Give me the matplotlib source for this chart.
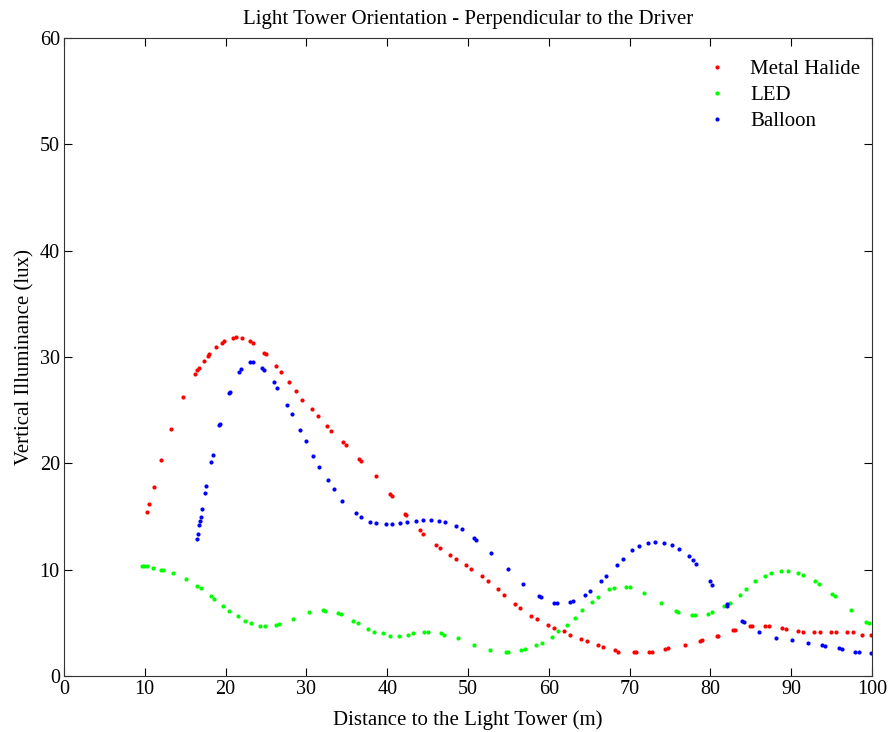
import matplotlib.pyplot as plt

# Metal Halide
mh_x = [10.3, 10.5, 11.1, 12.0, 13.2, 14.7, 16.25, 16.5, 16.75, 17.3, 17.8, 17.95, 18.8, 19.5, 19.8,
        20.9, 21.3, 22.0, 23.0, 23.4, 24.8, 25.0, 26.2, 26.8, 27.8, 28.7, 29.5, 30.65, 31.4, 32.6,
        33.1, 34.5, 34.9, 36.5, 36.7, 38.6, 40.4, 40.55, 42.2, 42.35, 44.1, 44.4, 46.0, 46.5, 47.8,
        48.5, 49.7, 50.4, 51.7, 52.5, 53.7, 54.5, 55.8, 56.4, 57.8, 58.5, 59.9, 60.6, 61.9, 62.6,
        64.0, 64.7, 66.05, 66.7, 68.2, 68.6, 70.5, 70.75, 72.4, 72.8, 74.4, 74.8, 76.8, 78.7, 79.0,
        80.8, 80.9, 82.8, 83.0, 84.9, 85.1, 86.8, 87.3, 88.8, 89.3, 90.9, 91.5, 92.8, 93.6, 94.9,
        95.6, 96.9, 97.7, 98.8, 99.9]
mh_y = [15.45, 16.2, 17.8, 20.3, 23.2, 26.2, 28.4, 28.8, 29.0, 29.6, 30.1, 30.3, 30.9, 31.3, 31.5,
        31.8, 31.9, 31.8, 31.5, 31.3, 30.4, 30.25, 29.2, 28.6, 27.65, 26.8, 26.0, 25.1, 24.45, 23.5,
        23.0, 22.0, 21.7, 20.4, 20.25, 18.8, 17.1, 16.95, 15.2, 15.1, 13.7, 13.4, 12.35, 12.0, 11.35,
        11.0, 10.4, 10.1, 9.4, 8.95, 8.15, 7.65, 6.8, 6.4, 5.6, 5.35, 4.8, 4.55, 4.2, 3.9,
        3.5, 3.3, 2.9, 2.75, 2.4, 2.3, 2.25, 2.25, 2.25, 2.3, 2.5, 2.6, 2.9, 3.25, 3.35,
        3.8, 3.8, 4.3, 4.3, 4.7, 4.7, 4.7, 4.7, 4.55, 4.45, 4.2, 4.15, 4.1, 4.1, 4.1,
        4.1, 4.1, 4.1, 3.9, 3.85]

# LED
led_x = [9.6, 9.9, 10.3, 11.0, 12.0, 12.3, 13.45, 15.05, 16.5, 16.9, 18.15, 18.6, 19.7, 20.4, 21.5,
         22.4, 23.1, 24.3, 24.9, 26.2, 26.6, 28.3, 30.3, 32.1, 32.3, 33.9, 34.3, 35.8, 36.35, 37.6,
         38.4, 39.5, 40.4, 41.4, 42.6, 43.2, 44.6, 45.1, 46.7, 47.0, 48.8, 50.7, 52.7, 54.7, 55.0,
         56.5, 57.0, 58.4, 59.2, 60.4, 61.2, 62.2, 63.2, 64.1, 65.4, 66.05, 67.5, 68.1, 69.6, 70.0,
         71.8, 73.85, 75.7, 76.0, 77.7, 78.1, 79.7, 80.2, 81.7, 82.4, 83.6, 84.4, 85.5, 86.7, 87.5,
         88.7, 89.6, 90.9, 91.5, 93.0, 93.5, 95.1, 95.4, 97.4, 99.3, 99.6]
led_y = [10.3, 10.3, 10.3, 10.2, 10.0, 10.0, 9.7, 9.15, 8.5, 8.25, 7.5, 7.25, 6.6, 6.1, 5.6,
         5.2, 4.95, 4.7, 4.7, 4.8, 4.85, 5.4, 6.05, 6.2, 6.15, 5.95, 5.8, 5.2, 4.95, 4.4,
         4.15, 4.0, 3.8, 3.8, 3.9, 4.0, 4.1, 4.1, 4.0, 3.9, 3.55, 2.95, 2.45, 2.25, 2.25,
         2.45, 2.5, 2.9, 3.15, 3.7, 4.2, 4.8, 5.5, 6.2, 7.0, 7.4, 8.2, 8.3, 8.4, 8.4,
         7.85, 6.9, 6.1, 6.0, 5.7, 5.7, 5.85, 6.0, 6.6, 6.9, 7.65, 8.15, 8.9, 9.4, 9.7,
         9.9, 9.9, 9.65, 9.5, 8.9, 8.65, 7.7, 7.5, 6.2, 5.1, 4.95]

# Balloon
bal_x = [16.45, 16.55, 16.75, 16.8, 17.0, 17.1, 17.5, 17.6, 18.2, 18.5, 19.2, 19.35, 20.4, 20.55,
         21.6, 21.95, 23.0, 23.35, 24.5, 24.8, 26.0, 26.4, 27.6, 28.25, 29.25, 30.0, 30.85, 31.6,
         32.7, 33.45, 34.4, 36.1, 36.7, 37.9, 38.6, 39.8, 40.55, 41.6, 42.5, 43.6, 44.4, 45.4,
         46.45, 47.2, 48.5, 49.2, 50.7, 50.95, 52.9, 54.9, 56.8, 58.75, 59.0, 60.7, 61.05, 62.6,
         63.0, 64.5, 65.1, 66.5, 67.1, 68.4, 69.15, 70.3, 71.2, 72.3, 73.2, 74.3, 75.2, 76.15,
         77.35, 77.85, 78.2, 79.9, 80.2, 82.0, 82.1, 83.95, 84.1, 86.0, 88.1, 90.05, 92.1, 93.85,
         94.2, 95.95, 96.3, 97.9, 98.4, 99.9]
bal_y = [12.9, 13.4, 14.2, 14.55, 15.0, 15.7, 17.25, 17.85, 20.1, 20.8, 23.6, 23.7, 26.6, 26.75,
         28.6, 28.9, 29.5, 29.5, 29.0, 28.8, 27.65, 27.05, 25.5, 24.6, 23.1, 22.1, 20.65, 19.7,
         18.4, 17.6, 16.5, 15.3, 15.0, 14.45, 14.35, 14.3, 14.3, 14.35, 14.45, 14.55, 14.65, 14.65,
         14.55, 14.45, 14.1, 13.8, 13.0, 12.8, 11.6, 10.1, 8.65, 7.5, 7.45, 6.85, 6.85, 6.95,
         7.05, 7.6, 7.95, 8.9, 9.4, 10.45, 11.0, 11.85, 12.25, 12.55, 12.65, 12.55, 12.3, 11.95,
         11.25, 10.9, 10.55, 8.9, 8.55, 6.8, 6.6, 5.15, 5.05, 4.15, 3.6, 3.35, 3.15, 2.9,
         2.85, 2.6, 2.55, 2.25, 2.25, 2.2]

plt.rcParams['font.family'] = ['Liberation Serif', 'DejaVu Serif']

fig = plt.figure(figsize=(8.91, 7.32), dpi=100)
ax = fig.add_axes([0.0718, 0.0765, 0.9069, 0.8715])

ax.plot(mh_x, mh_y, 'o', color=(1, 0, 0), ms=3.0, mew=0, label='Metal Halide')
ax.plot(led_x, led_y, 'o', color=(0, 1, 0), ms=3.0, mew=0, label='LED')
ax.plot(bal_x, bal_y, 'o', color=(0, 0, 1), ms=3.0, mew=0, label='Balloon')

ax.set_xlim(0, 100)
ax.set_ylim(0, 60)
ax.set_xticks(range(0, 101, 10))
ax.set_yticks(range(0, 61, 10))
ax.tick_params(direction='in', top=True, right=True, labelsize=14.5, length=6, pad=3)
for s in ax.spines.values():
    s.set_linewidth(0.8)
    s.set_color('#333333')

ax.set_title('Light Tower Orientation - Perpendicular to the Driver', fontsize=15, pad=10)
ax.set_xlabel('Distance to the Light Tower (m)', fontsize=15, labelpad=8)
ax.set_ylabel('Vertical Illuminance (lux)', fontsize=15, labelpad=4)

ax.legend(loc='upper right', bbox_to_anchor=(1.0, 0.984), frameon=False, fontsize=15,
          handlelength=2.0, handletextpad=0.6, borderaxespad=0.15, labelspacing=0.3)

fig.savefig('out.png', dpi=100)
